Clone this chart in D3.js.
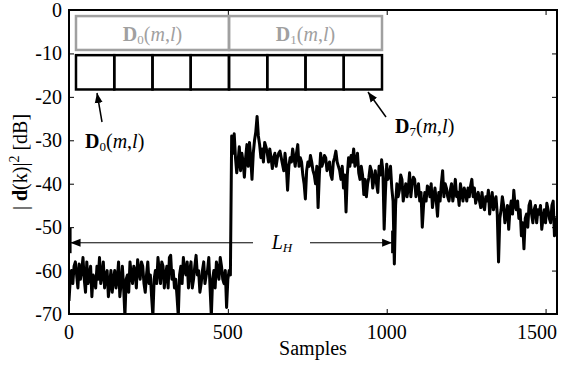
<!DOCTYPE html>
<html>
<head>
<meta charset="utf-8">
<script src="https://cdn.jsdelivr.net/npm/d3@7"></script>
<style>
  body { margin: 0; background: #fff; }
  svg text { font-family: "Liberation Serif", "DejaVu Serif", serif; }
</style>
</head>
<body>
<figure id="chart" style="margin:0"></figure>
<script>
// values in dB: main readings every 8 samples,
// "mid" readings at the samples halfway between them
const step = 8;
const noiseDb = [
  -67, -60, -59, -61, -58.5, -60, -62, -58, -61, -66, -62, -59, -57, -61, -64, -60,
  -63, -65, -60, -62, -66, -59, -70.5, -61, -58, -63, -60, -57.5, -62, -59, -65, -58,
  -61, -70.5, -60, -57, -63, -59, -61, -64, -56.5, -60, -62, -70.5, -59, -57, -61, -64,
  -58, -62, -56.5, -60, -63, -58, -61, -57, -70.5, -60, -58, -62, -59, -63, -68.5, -60
];
const noiseMidDb = [
  -62, -63, -58, -64, -62, -57, -65, -63, -59, -61, -64, -62, -63, -58, -61, -66,
  -60, -62, -64, -58, -63, -64, -62, -65, -61, -59, -64, -60, -58, -63, -61, -63,
  -66, -62, -63, -60, -58, -64, -59, -57, -62, -64, -66, -61, -63, -60, -58, -60,
  -64, -59, -61, -65, -60, -63, -60, -64, -62, -64, -60, -57, -62, -60, -62, -61
];
const signalDb = [
  -29, -28.5, -37.5, -31.5, -33, -38.5, -31, -30.5, -39, -30, -24.5, -31, -32, -30.5, -33, -32,
  -36.5, -33, -34, -32.5, -35.5, -33, -41.5, -34, -32, -36, -31, -34, -38, -43.5, -35, -33.5,
  -37, -40, -45.5, -33, -35, -34, -36, -38, -35, -32.5, -36, -39, -41, -46.5, -34, -33.5,
  -32, -35, -37.5, -36, -42.5, -43, -38.5, -37, -39, -40, -36, -34.5, -50.5, -35.5, -38, -41,
  -58.5, -40, -41.5, -39, -42, -43, -37.5, -40, -39, -41.5, -44, -50, -42, -40.5, -43, -45.5,
  -41, -47.5, -44, -37, -40, -43, -41.5, -44, -39, -42, -40, -44, -42, -41, -40.5, -43,
  -44.5, -42, -45.5, -45, -43, -41.5, -44, -46, -43, -58, -46, -45, -47, -50.5, -44, -41.5,
  -46, -48, -52, -55, -47, -45, -47, -46, -49, -47, -50.5, -46, -44.5, -48, -45, -52, -47.5
];
const signalMidDb = [
  -33, -34, -35, -37, -35, -34, -36, -34, -33, -28, -29, -34, -35, -31.5, -35, -34,
  -34, -36, -33, -34, -37, -36, -36, -35, -34, -33, -36, -35, -40, -37, -36, -35,
  -38, -36, -38, -36, -33.5, -37, -35, -39, -34, -35, -37, -36, -38, -38, -36, -35,
  -36, -33, -39, -38, -39, -40, -36, -41, -37, -42, -38, -37, -42, -39, -36, -44,
  -45, -43, -38, -44, -40, -41, -43, -38.5, -43, -40, -42, -45, -44, -41, -40, -43,
  -44, -42, -40, -43, -41, -44, -40, -42, -43, -45, -42, -41, -44, -43, -39, -41,
  -43, -44, -42, -46, -44, -47, -42, -44, -47, -48, -43, -49, -45, -46, -47, -45,
  -44, -46, -49, -48, -50, -44, -49, -45, -46, -45, -48, -49, -46, -49, -44, -50
];
const xTicks = [0, 500, 1000, 1500];
const yTicks = [0, -10, -20, -30, -40, -50, -60, -70];
const blockCount = 8;

const width = 567, height = 365;
const mLeft = 69, mRight = 557, mTop = 10, mBottom = 314;
const font = 20;

function weave(main, mid, start) {
  const out = [];
  main.forEach((v, i) => {
    out.push({ s: start + i * step, v: v });
    if (i < mid.length) out.push({ s: start + i * step + step / 2, v: mid[i] });
  });
  return out;
}
const values = weave(noiseDb, noiseMidDb, 0)
  .concat(weave(signalDb, signalMidDb, noiseDb.length * step));

const x = d3.scaleLinear().domain([0, 1536]).range([mLeft, mRight]);
const y = d3.scaleLinear().domain([-70, 0]).range([mBottom, mTop]);

const svg = d3.select("figure#chart")
  .append("svg")
  .attr("width", width)
  .attr("height", height);

const defs = svg.append("defs");
defs.append("clipPath").attr("id", "plot")
  .append("rect")
  .attr("x", mLeft).attr("y", mTop)
  .attr("width", mRight - mLeft).attr("height", mBottom - mTop);
defs.append("marker")
  .attr("id", "head")
  .attr("viewBox", "0 0 10 10")
  .attr("refX", 10).attr("refY", 5)
  .attr("markerWidth", 10).attr("markerHeight", 10)
  .attr("markerUnits", "userSpaceOnUse")
  .attr("orient", "auto")
  .append("path").attr("d", "M0,1 L10,5 L0,9 Z").attr("fill", "#000");

// the signal
svg.append("path")
  .datum(values)
  .attr("clip-path", "url(#plot)")
  .attr("fill", "none")
  .attr("stroke", "#000")
  .attr("stroke-width", 3)
  .attr("stroke-linejoin", "round")
  .attr("d", d3.line().x(d => x(d.s)).y(d => y(d.v)));

// axes, inward ticks on all four sides
svg.append("g").attr("transform", `translate(0,${mBottom})`)
  .call(d3.axisTop(x).tickValues(xTicks).tickSize(5).tickFormat(""));
svg.append("g").attr("transform", `translate(0,${mTop})`)
  .call(d3.axisBottom(x).tickValues(xTicks).tickSize(5).tickFormat(""));
svg.append("g").attr("transform", `translate(${mLeft},0)`)
  .call(d3.axisRight(y).tickValues(yTicks).tickSize(5).tickFormat(""));
svg.append("g").attr("transform", `translate(${mRight},0)`)
  .call(d3.axisLeft(y).tickValues(yTicks).tickSize(5).tickFormat(""));
svg.selectAll(".domain").remove();
svg.selectAll(".tick line").attr("stroke", "#000").attr("stroke-width", 1);

svg.append("rect")
  .attr("x", mLeft).attr("y", mTop)
  .attr("width", mRight - mLeft).attr("height", mBottom - mTop)
  .attr("fill", "none").attr("stroke", "#000").attr("stroke-width", 2);

// tick labels
svg.selectAll(".xlab").data(xTicks).enter().append("text")
  .attr("x", (d, i) => i === xTicks.length - 1 ? mRight : x(d))
  .attr("y", 339)
  .attr("text-anchor", (d, i) => i === xTicks.length - 1 ? "end" : "middle")
  .attr("font-size", font)
  .text(d => d);
svg.selectAll(".ylab").data(yTicks).enter().append("text")
  .attr("x", 62)
  .attr("y", d => y(d) + 7)
  .attr("text-anchor", "end")
  .attr("font-size", font)
  .text(d => d);

svg.append("text")
  .attr("x", (mLeft + mRight) / 2).attr("y", 355)
  .attr("text-anchor", "middle").attr("font-size", font)
  .text("Samples");

const yl = svg.append("text")
  .attr("transform", `translate(27,${(mTop + mBottom) / 2}) rotate(-90)`)
  .attr("text-anchor", "middle").attr("font-size", font);
yl.append("tspan").text("| ");
yl.append("tspan").attr("font-weight", "bold").text("d");
yl.append("tspan").text("(k)|");
yl.append("tspan").attr("font-size", 14).attr("dy", -8).text("2");
yl.append("tspan").attr("dy", 8).text(" [dB]");

// block diagram: two gray frames over eight black blocks
const blockStart = 22, blockLen = 120.4;
const blocks = d3.range(blockCount).map(i => blockStart + i * blockLen);
svg.selectAll(".gray").data([0, 1]).enter().append("rect")
  .attr("x", d => x(blockStart + d * 4 * blockLen))
  .attr("y", y(-1.4))
  .attr("width", x(4 * blockLen) - x(0))
  .attr("height", y(-9.2) - y(-1.4))
  .attr("fill", "none").attr("stroke", "#a0a0a0").attr("stroke-width", 2.5);
svg.selectAll(".blk").data(blocks).enter().append("rect")
  .attr("x", d => x(d))
  .attr("y", y(-10.4))
  .attr("width", x(blockLen) - x(0))
  .attr("height", y(-18.3) - y(-10.4))
  .attr("fill", "none").attr("stroke", "#000").attr("stroke-width", 2.5);

function dLabel(g, sub, px, py, color, anchor) {
  const t = g.append("text")
    .attr("x", px).attr("y", py)
    .attr("text-anchor", anchor)
    .attr("font-size", font)
    .attr("fill", color);
  t.append("tspan").attr("font-weight", "bold").text("D");
  t.append("tspan").attr("font-size", 13).attr("dy", 3).text(sub);
  t.append("tspan").attr("dy", -3).text("(");
  t.append("tspan").attr("font-style", "italic").text("m");
  t.append("tspan").text(",");
  t.append("tspan").attr("font-style", "italic").text("l");
  t.append("tspan").text(")");
}
dLabel(svg, "0", x(blockStart + 2 * blockLen), 41, "#a0a0a0", "middle");
dLabel(svg, "1", x(blockStart + 6 * blockLen), 41, "#a0a0a0", "middle");
dLabel(svg, "0", 85, 148, "#000", "start");
dLabel(svg, "7", 395, 133, "#000", "start");

// arrows to first and last block
svg.append("line")
  .attr("x1", 102).attr("y1", 122).attr("x2", 97).attr("y2", 93)
  .attr("stroke", "#000").attr("stroke-width", 1.5).attr("marker-end", "url(#head)");
svg.append("line")
  .attr("x1", 386).attr("y1", 117).attr("x2", 368).attr("y2", 92)
  .attr("stroke", "#000").attr("stroke-width", 1.5).attr("marker-end", "url(#head)");

// L_H span
const lhDb = -53.6;
svg.append("line")
  .attr("x1", x(5)).attr("y1", y(-50.2)).attr("x2", x(5)).attr("y2", y(-56))
  .attr("stroke", "#000").attr("stroke-width", 2);
svg.append("line")
  .attr("x1", x(1017)).attr("y1", y(-50.8)).attr("x2", x(1017)).attr("y2", y(-56))
  .attr("stroke", "#000").attr("stroke-width", 2);
svg.append("line")
  .attr("x1", 253).attr("y1", y(lhDb)).attr("x2", x(5)).attr("y2", y(lhDb))
  .attr("stroke", "#000").attr("stroke-width", 1).attr("marker-end", "url(#head)");
svg.append("line")
  .attr("x1", 310).attr("y1", y(lhDb)).attr("x2", x(1017)).attr("y2", y(lhDb))
  .attr("stroke", "#000").attr("stroke-width", 1).attr("marker-end", "url(#head)");
const lh = svg.append("text")
  .attr("x", 282).attr("y", 249)
  .attr("text-anchor", "middle").attr("font-size", font)
  .attr("font-style", "italic");
lh.append("tspan").text("L");
lh.append("tspan").attr("font-size", 13).attr("dy", 3).text("H");
</script>
</body>
</html>
